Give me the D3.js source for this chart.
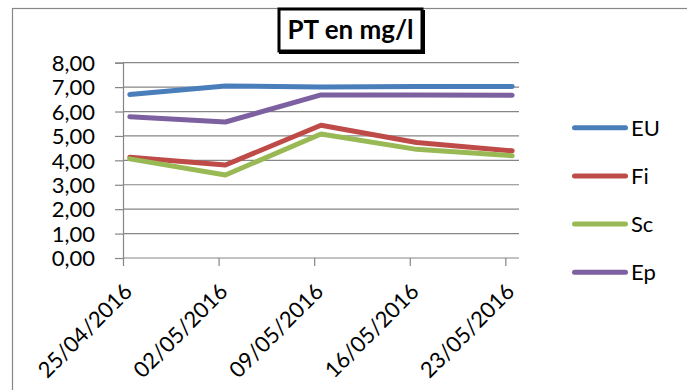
<!DOCTYPE html>
<html><head><meta charset="utf-8">
<script src="https://cdn.jsdelivr.net/npm/d3@7/dist/d3.min.js"></script>
<style>body{margin:0;background:#fff}svg{display:block}text{font-family:Lato,"Open Sans",sans-serif}</style>
</head><body><svg id="c" width="687" height="390"></svg>
<script>
const dates = ["2016-04-25","2016-05-02","2016-05-09","2016-05-16","2016-05-23"];
const tickLabels = ["25/04/2016","02/05/2016","09/05/2016","16/05/2016","23/05/2016"];
const yTicks = [0,1,2,3,4,5,6,7,8];
const seriesNames = ["EU","Fi","Sc","Ep"];
const seriesColors = ["#4A7EBB","#BE4B48","#98B954","#7D60A0"];
const EU = [6.70,7.05,7.00,7.02,7.03];
const Fi = [4.13,3.81,5.44,4.73,4.39];
const Sc = [4.06,3.40,5.08,4.45,4.19];
const Ep = [5.79,5.57,6.68,6.68,6.67];
const values = [EU,Fi,Sc,Ep];

const svg = d3.select("#c");
const parse = d3.utcParse("%Y-%m-%d");
const dts = dates.map(parse);
const dayMs = 86400000;
const x = d3.scaleUtc().domain([dts[0], new Date(+dts[4] + dayMs)]).range([123, 519]);
const y = d3.scaleLinear().domain([0,8]).range([258, 62.7]);

// outer frame
svg.append("rect").attr("x",12.5).attr("y",8.5).attr("width",700).attr("height",400)
  .attr("fill","#fff").attr("stroke","#868686").attr("stroke-width",1.2);

// gridlines + y axis
const yAxis = d3.axisLeft(y).tickValues(yTicks).tickSize(8)
  .tickFormat(d => d3.format(".2f")(d).replace(".", ","));
const gy = svg.append("g").attr("transform","translate(123,0)").call(yAxis);
gy.select(".domain").attr("stroke","#868686").attr("stroke-width",1.2);
gy.selectAll(".tick line").attr("stroke","#868686").attr("stroke-width",1.2);
gy.selectAll(".tick text").attr("font-size",22).attr("fill","#000").attr("x",-28).attr("dy","0.35em");
svg.append("g").selectAll("line").data(yTicks.filter(d=>d>0)).join("line")
  .attr("x1",123).attr("x2",519).attr("y1",d=>y(d)).attr("y2",d=>y(d))
  .attr("stroke","#868686").attr("stroke-width",1.2);

// x axis
const xAxis = d3.axisBottom(x).tickValues(dts).tickSize(8).tickFormat((d,i)=>tickLabels[i]);
const gx = svg.append("g").attr("transform",`translate(0,${y(0)})`).call(xAxis);
gx.select(".domain").attr("stroke","#868686").attr("stroke-width",1.2).attr("d","M123,0H519");
gx.selectAll(".tick line").attr("stroke","#868686").attr("stroke-width",1.2);
gx.selectAll(".tick text").attr("font-size",22).attr("fill","#000")
  .attr("text-anchor","end").attr("dy",0).attr("y",0)
  .attr("transform","translate(10,35) rotate(-45)");

// lines
const line = d3.line().x((d,i)=>x(new Date(+dts[i] + dayMs/2))).y(d=>y(d)).curve(d3.curveLinear);
values.forEach((vals,k)=>{
  svg.append("path").datum(vals).attr("d",line).attr("fill","none")
    .attr("stroke",seriesColors[k]).attr("stroke-width",5)
    .attr("stroke-linejoin","round").attr("stroke-linecap","round");
});

// legend
const lg = svg.append("g");
seriesNames.forEach((n,k)=>{
  const yy = 127.7 + k*48.2;
  lg.append("line").attr("x1",574.5).attr("x2",625.5).attr("y1",yy).attr("y2",yy)
    .attr("stroke",seriesColors[k]).attr("stroke-width",5).attr("stroke-linecap","round");
  lg.append("text").attr("x",631).attr("y",yy).attr("dy","0.36em").attr("font-size",22).text(n);
});

// title
svg.append("rect").attr("x",279).attr("y",10).attr("width",146).attr("height",44).attr("fill","#000");
svg.append("rect").attr("x",279).attr("y",9).attr("width",143).attr("height",42)
  .attr("fill","#fff").attr("stroke","#000").attr("stroke-width",3);
svg.append("text").attr("x",350.5).attr("y",38.5).attr("text-anchor","middle")
  .attr("font-size",26).attr("font-weight","bold").text("PT en mg/l");
</script></body></html>
